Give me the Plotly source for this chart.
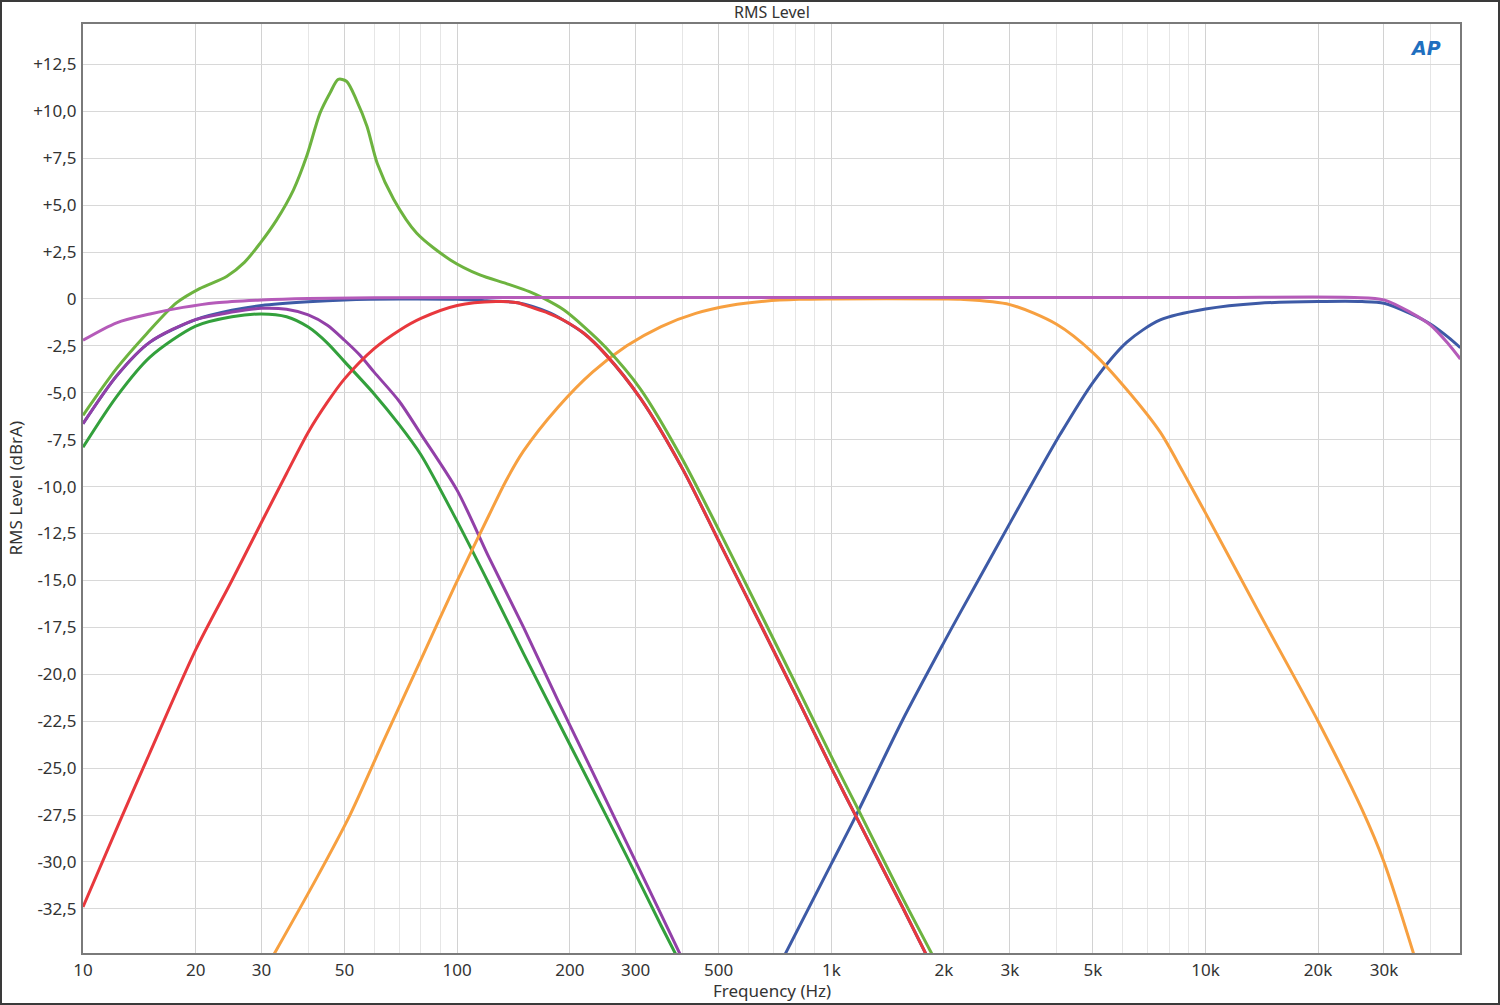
import plotly.graph_objects as go

# ---------------- data ----------------
green_f = [10, 12.3, 14.8, 17.8, 20.5, 24.2, 27, 29.7, 32.9, 36.5, 39.6, 43, 45.8, 48.1, 50.6, 53.8,
           57.4, 61.2, 67.7, 78, 95.9, 115, 135, 156, 170, 193, 218, 250, 309, 399, 503, 664, 821,
           1013, 1166, 1549, 1880]
green_db = [-6.2, -3.7, -1.85, -0.2, 0.55, 1.2, 1.95, 2.95, 4.2, 5.8, 7.6, 9.9, 11.0, 11.7, 11.6, 10.6,
            9.2, 7.2, 5.3, 3.5, 2.08, 1.28, 0.83, 0.39, 0.04, -0.59, -1.47, -2.6, -4.8, -8.5, -12.4,
            -17.2, -20.9, -24.6, -27.0, -31.9, -35.1]

red_f = [10, 12.5, 15, 20, 25, 30, 35, 40, 45, 50, 60, 70, 80, 100, 127, 145, 156, 175, 192, 218, 250,
         309, 399, 503, 664, 821, 1013, 1166, 1549, 1800]
red_db = [-32.4, -27.9, -24.3, -18.7, -15.0, -11.9, -9.3, -7.1, -5.5, -4.26, -2.65, -1.68, -1.04,
          -0.35, -0.14, -0.2, -0.41, -0.75, -1.12, -1.83, -2.98, -5.3, -9.0, -13.0, -17.8, -21.5,
          -25.2, -27.6, -32.4, -35.0]

navy_f = [10, 12.3, 15.1, 20, 25, 30, 40, 50, 70, 100, 120, 145, 175, 192, 218, 250, 309, 399, 503,
          664, 821, 1013, 1166, 1549, 1800]
navy_db = [-6.65, -4.1, -2.3, -1.1, -0.6, -0.35, -0.15, -0.05, 0.0, -0.02, -0.1, -0.2, -0.7, -1.12,
           -1.83, -2.98, -5.3, -9.0, -13.0, -17.8, -21.5, -25.2, -27.6, -32.4, -35.0]

dgreen_f = [10, 12.3, 15.1, 20, 25, 30, 35, 40, 45, 50, 60, 70, 80, 98.5, 121.8, 150.5, 186, 230, 284,
            351, 395]
dgreen_db = [-7.9, -5.2, -3.1, -1.45, -0.95, -0.8, -0.95, -1.5, -2.35, -3.34, -5.06, -6.7, -8.3,
             -11.6, -15.2, -18.9, -22.5, -26.1, -29.7, -33.4, -35.4]

purple_f = [10, 12.3, 15.1, 20, 25, 30, 35, 40, 45, 50, 55, 60, 70, 80, 100, 121.8, 150.5, 186, 230,
            284, 351, 405]
purple_db = [-6.65, -4.1, -2.3, -1.1, -0.7, -0.5, -0.55, -0.85, -1.4, -2.2, -3.0, -3.9, -5.45, -7.2,
             -10.2, -13.8, -17.5, -21.4, -25.2, -29.0, -32.8, -35.4]

pink_f = [10, 12.3, 15.1, 18.5, 22.7, 30, 40, 60, 1000, 10000, 25000, 30000, 35200, 40000, 44600, 48000]
pink_db = [-2.2, -1.27, -0.8, -0.45, -0.2, -0.05, 0.03, 0.07, 0.08, 0.08, 0.08, -0.05, -0.7, -1.4,
           -2.4, -3.2]

blue_f = [740, 1000, 1166, 1545, 2000, 2213, 2718, 3337, 4093, 5023, 6166, 7570, 10000, 13900, 20000,
          26200, 30000, 35200, 40000, 44600, 48000]
blue_db = [-35.2, -30.1, -27.5, -22.5, -18.3, -16.7, -13.5, -10.3, -7.2, -4.4, -2.3, -1.12, -0.54,
           -0.23, -0.14, -0.14, -0.23, -0.77, -1.35, -2.05, -2.6]

orange_f = [31.8, 42, 51.7, 63.4, 79.7, 98.5, 121.8, 135, 150.5, 186, 230, 284, 351, 434, 536, 663, 820,
            1000, 2000, 2213, 3000, 4000, 5000, 6166, 7570, 8700, 10000, 13900, 20000, 26200, 30000,
            36400]
orange_db = [-35.2, -30.9, -27.5, -23.6, -19.3, -15.3, -11.5, -9.7, -8.1, -5.77, -3.9, -2.5, -1.47,
             -0.77, -0.35, -0.12, -0.02, 0.0, 0.0, -0.02, -0.3, -1.35, -2.86, -4.84, -7.1, -9.2,
             -11.4, -16.7, -22.5, -27.2, -30.0, -35.2]

x_tickvals = [10, 20, 30, 50, 100, 200, 300, 500, 1000, 2000, 3000, 5000, 10000, 20000, 30000]
x_ticktext = ["10", "20", "30", "50", "100", "200", "300", "500", "1k", "2k", "3k", "5k", "10k",
              "20k", "30k"]
x_minor = [40, 60, 70, 80, 90, 400, 600, 700, 800, 900, 4000, 6000, 7000, 8000, 9000,
           40000]
y_tickvals = [12.5, 10, 7.5, 5, 2.5, 0, -2.5, -5, -7.5, -10, -12.5, -15, -17.5, -20, -22.5, -25,
              -27.5, -30, -32.5]
y_ticktext = ["+12,5", "+10,0", "+7,5", "+5,0", "+2,5", "0", "-2,5", "-5,0", "-7,5", "-10,0",
              "-12,5", "-15,0", "-17,5", "-20,0", "-22,5", "-25,0", "-27,5", "-30,0", "-32,5"]

# ---------------- figure ----------------
series = [
    (navy_f, navy_db, "#3d5aa6"),
    (blue_f, blue_db, "#3d5aa6"),
    (dgreen_f, dgreen_db, "#33a03c"),
    (purple_f, purple_db, "#9240a8"),
    (orange_f, orange_db, "#f7a040"),
    (red_f, red_db, "#e8383d"),
    (green_f, green_db, "#6db33f"),
    (pink_f, pink_db, "#b55bb9"),
]

fig = go.Figure()
for f, db, col in series:
    fig.add_trace(go.Scatter(x=f, y=db, mode="lines",
                             line=dict(color=col, width=3, shape="spline", smoothing=0.8),
                             showlegend=False, hoverinfo="skip"))

W, H = 1500, 1005
L, R, T, B = 83, 40, 24, 52
pw, ph = W - L - R, H - T - B
font = "Noto Sans, Open Sans, sans-serif"
FS = 17

fig.update_layout(
    width=W, height=H,
    margin=dict(l=L, r=R, t=T, b=B),
    paper_bgcolor="white", plot_bgcolor="white",
    font=dict(family=font, size=FS, color="#333333"),
    xaxis=dict(
        type="log", range=[1, 4.6803], tickvals=x_tickvals, ticktext=x_ticktext,
        showgrid=True, gridcolor="#d2d2d2", gridwidth=1,
        minor=dict(tickvals=x_minor, showgrid=True, gridcolor="#e6e6e6", gridwidth=1, ticks=""),
        showline=True, linecolor="#7a7a7a", linewidth=2, mirror=True,
        ticks="", ticklabelstandoff=1, zeroline=False,
        tickfont=dict(size=FS),
    ),
    yaxis=dict(
        range=[-34.85, 14.65], tickvals=y_tickvals, ticktext=y_ticktext,
        showgrid=True, gridcolor="#d8d8d8", gridwidth=1,
        showline=True, linecolor="#7a7a7a", linewidth=2, mirror=True,
        ticks="", ticklabelstandoff=1, zeroline=False,
        tickfont=dict(size=FS),
    ),
    annotations=[
        dict(text="RMS Level", x=0.5, y=1 + 12 / ph, xref="paper", yref="paper",
             showarrow=False, font=dict(size=16, color="#333333"), xanchor="center", yanchor="middle"),
        dict(text="Frequency (Hz)", x=0.5, y=-37 / ph, xref="paper", yref="paper",
             showarrow=False, font=dict(size=FS, color="#333333"), xanchor="center", yanchor="middle"),
        dict(text="RMS Level (dBrA)", x=-68 / pw, y=0.5, xref="paper", yref="paper", textangle=-90,
             showarrow=False, font=dict(size=FS, color="#333333"), xanchor="center", yanchor="middle"),
        dict(text="<b><i>AP</i></b>", x=1 - 35 / pw, y=1 - 24 / ph, xref="paper", yref="paper",
             showarrow=False, font=dict(size=19, color="#1f6fbf", family="DejaVu Sans"),
             xanchor="center", yanchor="middle"),
    ],
    shapes=[
        dict(type="rect", xref="paper", yref="paper",
             x0=-(L - 1) / pw, x1=1 + (R - 1) / pw, y0=-(B - 1) / ph, y1=1 + (T - 1) / ph,
             line=dict(color="#3a3a3a", width=2), fillcolor="rgba(0,0,0,0)", layer="above"),
    ],
)

fig.write_html("out.html", config={"displayModeBar": False},
               post_script="document.body.style.margin='0';document.body.style.padding='0';")
